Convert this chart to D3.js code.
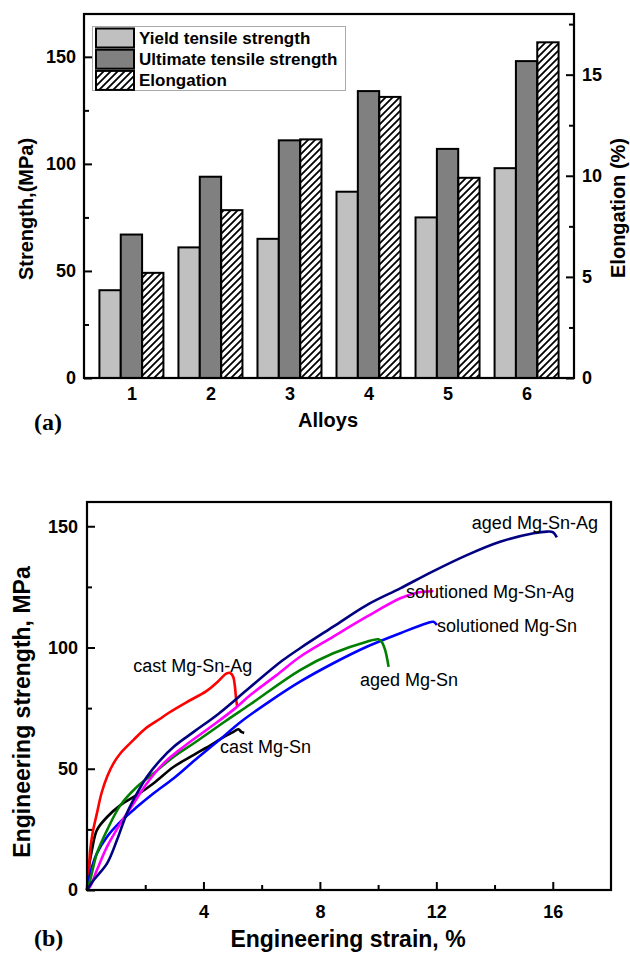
<!DOCTYPE html>
<html>
<head>
<meta charset="utf-8">
<script src="https://cdn.jsdelivr.net/npm/d3@7"></script>
<style>
  body { margin: 0; background: #fff; }
  svg { display: block; }
  .sans { font-family: "Liberation Sans", Arial, sans-serif; }
</style>
</head>
<body>
<div id="chart-container"></div>
<script>
// ---- panel (a) data ----
const alloys = [1, 2, 3, 4, 5, 6];
const yieldStrength = [41, 61, 65, 87, 75, 98];        // MPa
const ultimateStrength = [67, 94, 111, 134, 107, 148];  // MPa
const elongation = [5.2, 8.3, 11.8, 13.9, 9.9, 16.6];   // %
const seriesNames = ["Yield tensile strength", "Ultimate tensile strength", "Elongation"];
const strengthTicks = [0, 50, 100, 150];
const elongTicks = [0, 5, 10, 15];

// ---- panel (b) data: strain (%), stress (MPa) ----
const castMgSn = [[0,0],[0.05,8],[0.17,16.5],[0.34,24.7],[0.69,30.1],[1.15,35],[1.72,39.2],[2.29,44],[2.98,50.8],[3.67,55.7],[4.35,60.5],[4.75,63.5],[5.0,65],[5.2,66.3],[5.3,65.2],[5.4,64.8]];
const castMgSnAg = [[0,0],[0.05,5],[0.11,16.5],[0.2,24],[0.34,31.6],[0.5,40],[0.69,46.7],[0.9,52],[1.15,56.4],[1.6,61.9],[2.0,66.5],[2.5,70.5],[2.8,73],[3.4,77.3],[4.1,82],[4.5,86],[4.8,89.3],[4.92,89.5],[5.02,88],[5.08,84],[5.12,79],[5.16,75.5]];
const solMgSn = [[0,0],[0.11,6.9],[0.34,15.1],[0.69,22],[1.15,28.2],[1.72,34.3],[2.29,39.9],[2.98,46.1],[3.71,53.6],[4.51,61.5],[5.3,69.5],[6.3,78],[7.32,85.9],[8.46,93.5],[9.61,100.3],[10.76,105.9],[11.67,110],[11.9,110.6],[12.02,109.3]];
const agedMgSn = [[0,0],[0.11,4.1],[0.34,15.1],[0.69,24.7],[1.15,35],[1.72,42.6],[2.29,48.1],[2.98,55],[3.67,60.5],[4.74,69.5],[5.6,76.5],[7.32,90.7],[8.46,97.6],[9.61,102.4],[10.01,103.4],[10.12,102.4],[10.24,99],[10.36,92]];
const solMgSnAg = [[0,0],[0.11,1.4],[0.34,8.2],[0.69,17.9],[1.15,27.5],[1.6,35.7],[2.06,44],[2.63,52.2],[3.32,59.1],[4.28,67.5],[5.1,75],[5.6,80.3],[6.5,88.5],[7.32,96.2],[8.46,104.5],[9.61,112.7],[10.76,120.3],[11.3,122.5],[11.9,123.3]];
const agedMgSnAg = [[0,0],[0.23,4.1],[0.69,11],[1.03,20.6],[1.37,31.6],[1.72,39.9],[2.06,46.7],[2.52,53.6],[2.98,59.1],[3.7,65.5],[4.5,72.5],[5.6,83.6],[6.7,94.5],[7.32,99.7],[8.46,108.6],[9.61,117.5],[10.76,124.4],[11.9,131.5],[13.05,138.1],[14.19,143.6],[15.34,147.1],[15.8,147.8],[16.0,147.6],[16.14,145.4]];

const curveNames = ["cast Mg-Sn", "cast Mg-Sn-Ag", "solutioned Mg-Sn", "aged Mg-Sn", "solutioned Mg-Sn-Ag", "aged Mg-Sn-Ag"];
const curveData = [castMgSn, castMgSnAg, solMgSn, agedMgSn, solMgSnAg, agedMgSnAg];
const curveColors = ["#000000", "#ff0000", "#0000ff", "#008000", "#ff00ff", "#000080"];
// label anchors (strain, stress) for each curve
const labelAt = [[4.57, 56.6], [1.59, 90], [12.02, 106.3], [9.38, 84.1], [10.96, 120.3], [13.22, 148.7]];
const strainTicks = [4, 8, 12, 16];
const stressTicks = [0, 50, 100, 150];

const svg = d3.select("#chart-container").append("svg")
    .attr("width", 630).attr("height", 953)
    .attr("class", "sans");

svg.append("rect").attr("width", 630).attr("height", 953).attr("fill", "#fff");

// hatch for the elongation bars
svg.append("defs").append("pattern")
    .attr("id", "hatch")
    .attr("patternUnits", "userSpaceOnUse")
    .attr("width", 7).attr("height", 7)
    .append("path")
    .attr("d", "M-1,1 l2,-2 M0,7 l7,-7 M6,8 l2,-2")
    .attr("stroke", "#000")
    .attr("stroke-width", 1.8);

function styleAxis(g, size) {
    g.select(".domain").remove();
    g.selectAll(".tick line").attr("stroke", "#000").attr("stroke-width", 2);
    g.selectAll("text")
        .attr("font-family", "Liberation Sans, Arial, sans-serif")
        .attr("font-size", size)
        .attr("font-weight", "bold")
        .attr("fill", "#000");
}

function drawBarChart() {
    const L = 84, R = 574, T = 14, B = 378;
    const x = d3.scaleLinear().domain([0.4, 6.6]).range([L, R]);
    const yS = d3.scaleLinear().domain([0, 170]).range([B, T]);
    const yE = d3.scaleLinear().domain([0, 18]).range([B, T]);
    const bw = 0.27;

    const g = svg.append("g");

    // yield
    g.selectAll(".ys").data(alloys).join("rect")
        .attr("x", (d, i) => x(d - 1.5 * bw))
        .attr("y", (d, i) => yS(yieldStrength[i]))
        .attr("width", x(bw) - x(0))
        .attr("height", (d, i) => B - yS(yieldStrength[i]))
        .attr("fill", "#c0c0c0").attr("stroke", "#000").attr("stroke-width", 2);

    // ultimate
    g.selectAll(".us").data(alloys).join("rect")
        .attr("x", (d, i) => x(d - 0.5 * bw))
        .attr("y", (d, i) => yS(ultimateStrength[i]))
        .attr("width", x(bw) - x(0))
        .attr("height", (d, i) => B - yS(ultimateStrength[i]))
        .attr("fill", "#808080").attr("stroke", "#000").attr("stroke-width", 2);

    // elongation, right axis
    g.selectAll(".el").data(alloys).join("rect")
        .attr("x", (d, i) => x(d + 0.5 * bw))
        .attr("y", (d, i) => yE(elongation[i]))
        .attr("width", x(bw) - x(0))
        .attr("height", (d, i) => B - yE(elongation[i]))
        .attr("fill", "url(#hatch)").attr("stroke", "#000").attr("stroke-width", 2);

    // axes
    svg.append("g").attr("transform", `translate(${L},0)`)
        .call(d3.axisLeft(yS).tickValues([25, 75, 125]).tickSize(-5).tickFormat(""))
        .call(g => styleAxis(g, 18));
    svg.append("g").attr("transform", `translate(${L},0)`)
        .call(d3.axisLeft(yS).tickValues(strengthTicks).tickSize(-8).tickPadding(8))
        .call(g => styleAxis(g, 18));
    svg.append("g").attr("transform", `translate(${R},0)`)
        .call(d3.axisRight(yE).tickValues([2.5, 7.5, 12.5, 17.5]).tickSize(-5).tickFormat(""))
        .call(g => styleAxis(g, 18));
    svg.append("g").attr("transform", `translate(${R},0)`)
        .call(d3.axisRight(yE).tickValues(elongTicks).tickSize(-8).tickPadding(8))
        .call(g => styleAxis(g, 18));
    svg.append("g").attr("transform", `translate(0,${B})`)
        .call(d3.axisBottom(x).tickValues(alloys).tickFormat(d3.format("d")).tickSize(0).tickPadding(9))
        .call(g => styleAxis(g, 18));

    svg.append("rect")
        .attr("x", L).attr("y", T).attr("width", R - L).attr("height", B - T)
        .attr("fill", "none").attr("stroke", "#000").attr("stroke-width", 2.2);

    // legend
    const lg = svg.append("g");
    lg.append("rect").attr("x", 92.5).attr("y", 26.5).attr("width", 253).attr("height", 64)
        .attr("fill", "#fff").attr("stroke", "#aaa").attr("stroke-width", 1);
    const fills = ["#c0c0c0", "#808080", "url(#hatch)"];
    seriesNames.forEach((name, i) => {
        lg.append("rect").attr("x", 96).attr("y", 28.5 + i * 21.2).attr("width", 38).attr("height", 19)
            .attr("fill", fills[i]).attr("stroke", "#000").attr("stroke-width", 2);
        lg.append("text").attr("x", 139).attr("y", 44 + i * 21.2)
            .attr("font-size", 17).attr("font-weight", "bold").text(name);
    });

    // titles
    svg.append("text").attr("transform", "translate(33,209) rotate(-90)")
        .attr("text-anchor", "middle").attr("font-size", 20).attr("font-weight", "bold")
        .text("Strength,(MPa)");
    svg.append("text").attr("transform", "translate(625,208) rotate(-90)")
        .attr("text-anchor", "middle").attr("font-size", 20).attr("font-weight", "bold")
        .text("Elongation (%)");
    svg.append("text").attr("x", 328).attr("y", 427)
        .attr("text-anchor", "middle").attr("font-size", 20).attr("font-weight", "bold")
        .text("Alloys");
    svg.append("text").attr("x", 34).attr("y", 430)
        .attr("font-family", "Liberation Serif, Times New Roman, serif")
        .attr("font-size", 24).attr("font-weight", "bold").text("(a)");
}

function drawCurves() {
    const L = 87, R = 611, T = 502, B = 890;
    const x = d3.scaleLinear().domain([0, 18]).range([L, R]);
    const y = d3.scaleLinear().domain([0, 160]).range([B, T]);

    const line = d3.line()
        .x(d => x(d[0]))
        .y(d => y(d[1]))
        .curve(d3.curveCatmullRom.alpha(0.5));

    svg.append("g").selectAll("path").data(curveData).join("path")
        .attr("d", d => line(d))
        .attr("fill", "none")
        .attr("stroke", (d, i) => curveColors[i])
        .attr("stroke-width", 2.6)
        .attr("stroke-linejoin", "round");

    svg.append("g").selectAll("text").data(curveNames).join("text")
        .attr("x", (d, i) => x(labelAt[i][0]))
        .attr("y", (d, i) => y(labelAt[i][1]))
        .attr("font-size", 18)
        .text(d => d);

    svg.append("g").attr("transform", `translate(0,${B})`)
        .call(d3.axisBottom(x).tickValues([2, 6, 10, 14]).tickSize(-5).tickFormat(""))
        .call(g => styleAxis(g, 18));
    svg.append("g").attr("transform", `translate(0,${B})`)
        .call(d3.axisBottom(x).tickValues(strainTicks).tickSize(-8).tickPadding(15))
        .call(g => styleAxis(g, 18));
    svg.append("g").attr("transform", `translate(${L},0)`)
        .call(d3.axisLeft(y).tickValues([25, 75, 125]).tickSize(-5).tickFormat(""))
        .call(g => styleAxis(g, 18));
    svg.append("g").attr("transform", `translate(${L},0)`)
        .call(d3.axisLeft(y).tickValues(stressTicks).tickSize(-8).tickPadding(9))
        .call(g => styleAxis(g, 18));

    svg.append("rect")
        .attr("x", L).attr("y", T).attr("width", R - L).attr("height", B - T)
        .attr("fill", "none").attr("stroke", "#000").attr("stroke-width", 2.2);

    svg.append("text").attr("transform", "translate(30,712) rotate(-90)")
        .attr("text-anchor", "middle").attr("font-size", 23).attr("font-weight", "bold")
        .text("Engineering strength, MPa");
    svg.append("text").attr("x", 348).attr("y", 947)
        .attr("text-anchor", "middle").attr("font-size", 23).attr("font-weight", "bold")
        .text("Engineering strain, %");
    svg.append("text").attr("x", 34).attr("y", 946)
        .attr("font-family", "Liberation Serif, Times New Roman, serif")
        .attr("font-size", 24).attr("font-weight", "bold").text("(b)");
}

drawBarChart();
drawCurves();
</script>
</body>
</html>
